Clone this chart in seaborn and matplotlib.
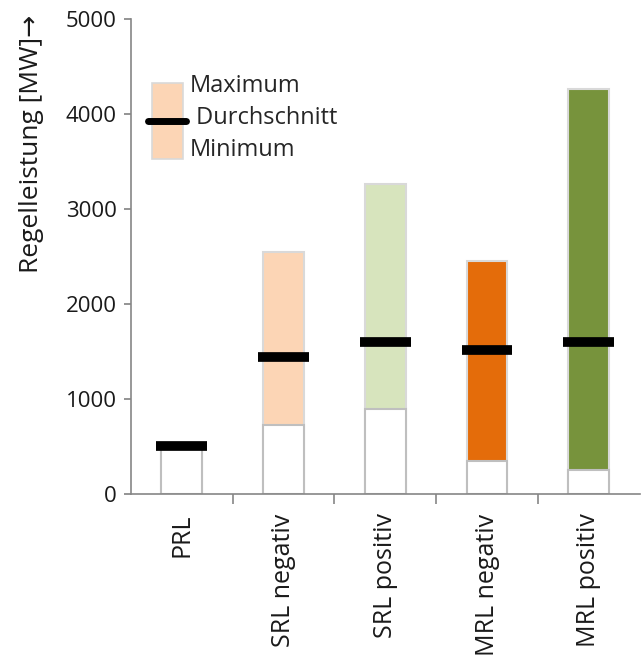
import numpy as np
import pandas as pd
import matplotlib
matplotlib.use("Agg")
import matplotlib.pyplot as plt
from matplotlib.patches import Rectangle
from matplotlib.lines import Line2D
from matplotlib.ticker import FixedLocator
import seaborn as sns

sns.set_theme(style="white")
plt.rcParams["font.family"] = ["Open Sans", "DejaVu Sans"]

categories = ["PRL", "SRL negativ", "SRL positiv", "MRL negativ", "MRL positiv"]
minimum = [500, 726, 895, 347, 253]
maximum = [500, 2547, 3263, 2453, 4263]
average = [510, 1442, 1600, 1516, 1600]
colors = ["#FFFFFF", "#FCD5B5", "#D7E4BD", "#E46C0A", "#77933C"]


class RangeHandler:
    # peach box with a black bar across the middle, like the chart marks
    def legend_artist(self, legend, orig_handle, fontsize, handlebox):
        x0, y0 = -handlebox.xdescent, -handlebox.ydescent
        w, h = handlebox.width, handlebox.height
        tr = handlebox.get_transform()
        box = Rectangle((x0, y0), w, h, facecolor="#FCD5B5", edgecolor="#D9D9D9",
                        linewidth=1.2, transform=tr)
        bar = Line2D([x0 - 0.12 * w, x0 + 1.12 * w], [y0 + h / 2, y0 + h / 2],
                     color="black", linewidth=5, transform=tr)
        handlebox.add_artist(box)
        handlebox.add_artist(bar)
        return box


df = pd.DataFrame({"cat": categories, "min": minimum, "max": maximum, "avg": average})

fig = plt.figure(figsize=(6.41, 6.64), dpi=100)
ax = fig.add_axes([0.204, 0.256, 0.794, 0.715])

# colored range (0..max), then white bar (0..min) on top
sns.barplot(data=df, x="cat", y="max", hue="cat", palette=colors, legend=False,
            width=0.4, edgecolor="#D9D9D9", linewidth=1.5, saturation=1, ax=ax)
sns.barplot(data=df, x="cat", y="min", color="white", width=0.4,
            edgecolor="#BFBFBF", linewidth=1.5, saturation=1, ax=ax)

xs = np.arange(len(categories))
ax.hlines(df["avg"], xs - 0.25, xs + 0.25, color="black", linewidth=7, zorder=5)

ax.set_xlim(-0.5, len(categories) - 0.5)
ax.set_ylim(0, 5000)
ax.set_yticks([0, 1000, 2000, 3000, 4000, 5000])
ax.set_xlabel("")
ax.set_ylabel("Regelleistung [MW]\u2192", loc="top", fontsize=19, color="#1a1a1a")
ax.yaxis.set_label_coords(-0.17, 1.01)

for s in ["top", "right"]:
    ax.spines[s].set_visible(False)
for s in ["left", "bottom"]:
    ax.spines[s].set_color("#868686")
    ax.spines[s].set_linewidth(1.2)

ax.tick_params(axis="y", left=True, length=5, color="#868686", labelsize=16,
               labelcolor="#1a1a1a", pad=5)
ax.tick_params(axis="x", which="major", bottom=False, labelsize=18,
               labelcolor="#1a1a1a", labelrotation=90, pad=8)
ax.xaxis.set_minor_locator(FixedLocator(xs[:-1] + 0.5))
ax.tick_params(axis="x", which="minor", bottom=True, length=7, color="#868686", width=1.2)

leg = ax.legend([object()], ["Maximum\n Durchschnitt\nMinimum"],
                handler_map={object: RangeHandler()},
                loc="upper left", bbox_to_anchor=(0.0, 0.93), frameon=False,
                handlelength=1.3, handleheight=4.6, handletextpad=0.3,
                labelspacing=0, prop={"size": 17})
for t in leg.get_texts():
    t.set_linespacing(1.45)

fig.savefig("out.png", dpi=100)
